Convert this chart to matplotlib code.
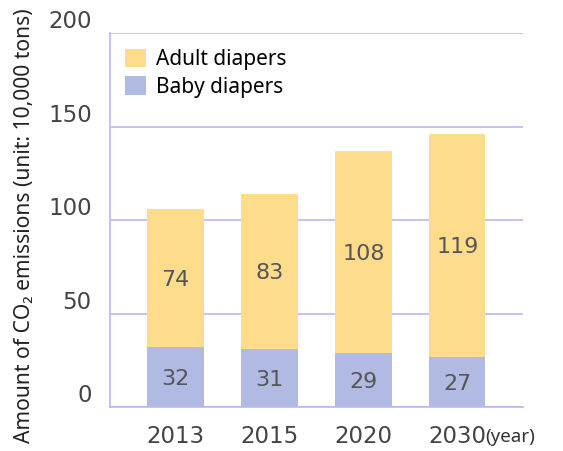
import matplotlib
matplotlib.use("Agg")
import matplotlib.pyplot as plt
import numpy as np

years = ['2013', '2015', '2020', '2030']
baby = [32, 31, 29, 27]
adult = [74, 83, 108, 119]

yellow = '#fddc8c'
blue = '#b1bae3'
grid_col = '#b9b9f3'
num_col = '#555555'

fig = plt.figure(figsize=(5.63, 4.51), dpi=100)
ax = fig.add_axes([0.195, 0.0976, 0.734, 0.829])

x = np.arange(len(years))
ax.bar(x, baby, width=0.6, color=blue, label='Baby diapers', zorder=3)
ax.bar(x, adult, width=0.6, bottom=baby, color=yellow, label='Adult diapers', zorder=3)

# value labels inside the bars
for i in range(len(years)):
    ax.text(x[i], baby[i] / 2 - 1, str(baby[i]), ha='center', va='center',
            fontsize=16, color=num_col, zorder=4)
    ax.text(x[i], baby[i] + adult[i] / 2 - 1, str(adult[i]), ha='center', va='center',
            fontsize=16, color=num_col, zorder=4)

ax.set_xlim(-0.7, 3.7)
ax.set_ylim(0, 200)
ax.set_yticks([0, 50, 100, 150, 200])
ax.set_xticks(x)
ax.set_xticklabels(years)
for s in ['top', 'right']:
    ax.spines[s].set_visible(False)
ax.spines['left'].set_color(grid_col)
ax.spines['bottom'].set_color(grid_col)
ax.spines['left'].set_linewidth(1.2)
ax.spines['bottom'].set_linewidth(1.2)
ax.yaxis.grid(True, color=grid_col, linewidth=1.2, zorder=0)
ax.tick_params(axis='both', length=0, labelsize=16.5, labelcolor='#444444')
ax.tick_params(axis='y', pad=13)
ax.tick_params(axis='x', pad=13)
for lab in ax.get_yticklabels():
    lab.set_va('bottom')

ax.text(3.3, -0.055, '(year)', transform=ax.get_xaxis_transform(), ha='left', va='top',
        fontsize=13.5, color='#333333', family='Noto Sans')

h, l = ax.get_legend_handles_labels()
ax.legend(h[::-1], l[::-1], loc='upper left', frameon=False,
          prop={'family': 'Noto Sans', 'size': 15, 'weight': 'semibold'},
          handlelength=1.0, handleheight=1.0, handletextpad=0.45,
          borderaxespad=0.35, labelspacing=0.3)

fig.text(0.043, 0.5, 'Amount of CO\u2082 emissions (unit: 10,000 tons)', rotation=90,
         ha='center', va='center', fontsize=15.2, color='#222222', family='Noto Sans')

fig.savefig('out.png', dpi=100)
